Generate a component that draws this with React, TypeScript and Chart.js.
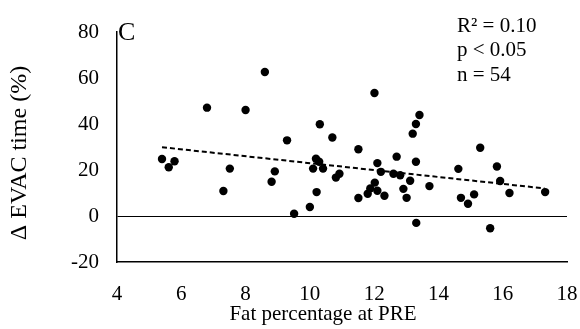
import React, { useEffect, useRef } from 'react';
import { Chart, registerables } from 'chart.js';

Chart.register(...registerables);

// ---- data ----
const fatPct = [
  5.40, 5.61, 5.79, 6.80, 7.31, 7.51, 8.00, 8.60, 8.81, 8.91,
  9.29, 9.51, 10.00, 10.10, 10.19, 10.21, 10.29, 10.31, 10.41, 10.70,
  10.81, 10.92, 11.51, 11.51, 11.80, 11.88, 12.01, 12.02, 12.10, 12.10,
  12.21, 12.32, 12.60, 12.70, 12.81, 12.91, 13.01, 13.12, 13.20, 13.30,
  13.30, 13.31, 13.41, 13.72, 14.62, 14.70, 14.92, 15.11, 15.30, 15.61,
  15.82, 15.92, 16.21, 17.32,
];
const evacChange = [
  24.8, 21.2, 23.8, 47.1, 10.9, 20.6, 46.1, 62.6, 14.9, 19.4,
  32.9, 1.0, 3.9, 20.6, 24.9, 10.4, 23.6, 39.9, 20.6, 34.1,
  16.7, 18.4, 29.0, 7.8, 9.7, 12.0, 53.5, 14.5, 23.0, 11.0,
  19.2, 8.8, 18.4, 25.8, 17.7, 11.8, 7.9, 15.3, 35.8, 40.0,
  23.6, -3.0, 43.9, 13.0, 20.5, 7.9, 5.3, 9.4, 29.7, -5.3,
  21.5, 15.2, 10.0, 10.4,
];
const trendX = [5.4, 17.3];
const trendY = [29.9, 12.0];
const xTicks = [4, 6, 8, 10, 12, 14, 16, 18];
const yTicks = [-20, 0, 20, 40, 60, 80];
const statsLines = ['R\u00B2 = 0.10', 'p < 0.05', 'n = 54'];
const panelLabel = 'C';
const xTitle = 'Fat percentage at PRE';
const yTitle = '\u0394 EVAC time (%)';

const FONT = '"Liberation Serif", "Times New Roman", serif';

const annotPlugin = {
  id: 'annot',
  afterDraw(chart: any) {
    const { ctx, chartArea } = chart;
    ctx.save();
    ctx.fillStyle = '#000';
    // x axis title
    ctx.font = `21px ${FONT}`;
    ctx.textAlign = 'center';
    ctx.textBaseline = 'alphabetic';
    ctx.fillText(xTitle, (chartArea.left + chartArea.right) / 2 - 19, 320);
    // y axis title
    ctx.save();
    ctx.translate(20, (chartArea.top + chartArea.bottom) / 2 + 6);
    ctx.rotate(-Math.PI / 2);
    ctx.font = `24px ${FONT}`;
    ctx.textAlign = 'center';
    ctx.textBaseline = 'middle';
    ctx.fillText(yTitle, 0, 0);
    ctx.restore();
    // panel label
    ctx.font = `26px ${FONT}`;
    ctx.textAlign = 'left';
    ctx.textBaseline = 'alphabetic';
    ctx.fillText(panelLabel, chartArea.left + 1, 40);
    // stats
    ctx.font = `21px ${FONT}`;
    statsLines.forEach((s, i) => {
      ctx.fillText(s, 457, 32 + i * 24.4);
    });
    ctx.restore();
  },
};

export default function App() {
  const ref = useRef<HTMLCanvasElement>(null);
  useEffect(() => {
    document.body.style.margin = '0';
    const chart = new Chart(ref.current!, {
      type: 'scatter',
      data: {
        datasets: [
          {
            label: 'points',
            data: fatPct.map((x, i) => ({ x, y: evacChange[i] })),
            backgroundColor: '#000',
            borderColor: '#000',
            pointRadius: 4.2,
            pointBorderWidth: 0,
          },
          {
            type: 'line',
            label: 'trend',
            data: trendX.map((x, i) => ({ x, y: trendY[i] })),
            borderColor: '#000',
            borderWidth: 2,
            borderDash: [5, 3],
            pointRadius: 0,
            showLine: true,
            fill: false,
          } as any,
        ],
      },
      options: {
        animation: false,
        responsive: false,
        events: [],
        layout: { padding: { top: 32, right: 13, left: 0, bottom: 0 } },
        plugins: { legend: { display: false }, tooltip: { enabled: false } },
        scales: {
          x: {
            type: 'linear',
            min: 4,
            max: 18,
            afterBuildTicks: (s: any) => {
              s.ticks = xTicks.map((v) => ({ value: v }));
            },
            afterFit: (s: any) => {
              s.height = 67;
              s.paddingLeft = 0;
              s.paddingRight = 0;
            },
            grid: { display: false, drawTicks: false },
            border: { display: true, color: '#000', width: 1.5 },
            ticks: {
              padding: 20,
              color: '#000',
              font: { family: FONT, size: 21 },
              maxRotation: 0,
            },
          },
          y: {
            type: 'linear',
            min: -20,
            max: 80,
            afterBuildTicks: (s: any) => {
              s.ticks = yTicks.map((v) => ({ value: v }));
            },
            afterFit: (s: any) => {
              s.width = 117;
              s.paddingTop = 0;
              s.paddingBottom = 0;
            },
            grid: {
              drawTicks: false,
              color: (c: any) => (c.tick && c.tick.value === 0 ? '#000' : 'rgba(0,0,0,0)'),
              lineWidth: 1,
            },
            border: { display: true, color: '#000', width: 1.5 },
            ticks: {
              padding: 18,
              color: '#000',
              font: { family: FONT, size: 21 },
            },
          },
        },
      },
      plugins: [annotPlugin],
    });
    return () => chart.destroy();
  }, []);
  return (
    <div style={{ width: 580, height: 329 }}>
      <canvas ref={ref} width={580} height={329} style={{ display: 'block' }} />
    </div>
  );
}
